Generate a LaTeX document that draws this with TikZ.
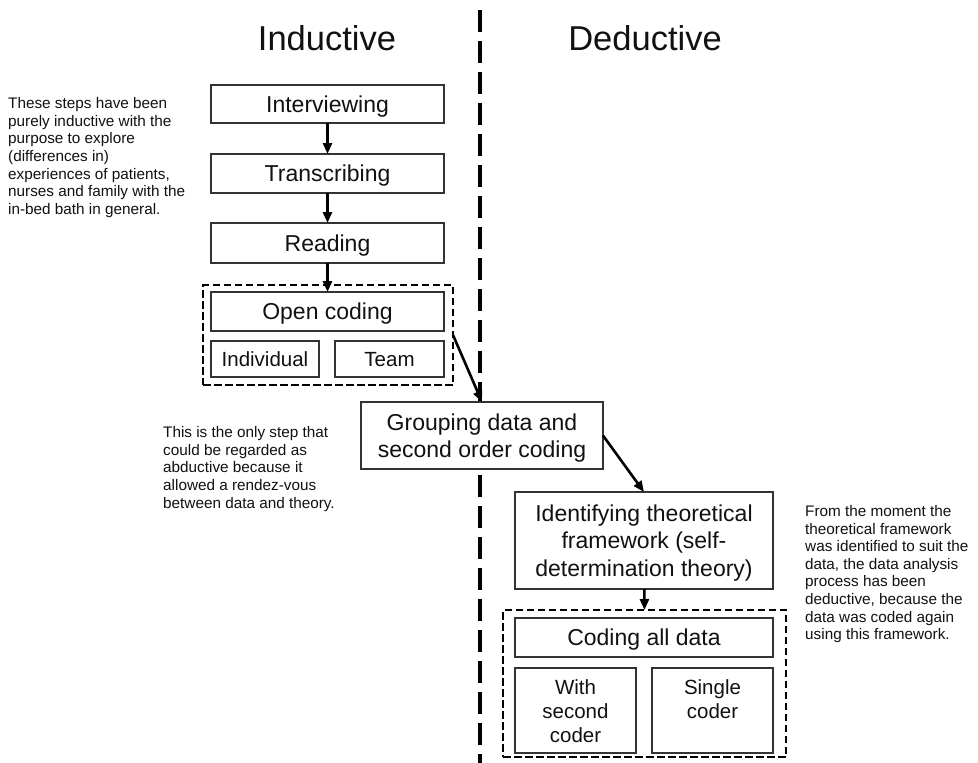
\documentclass[tikz,border=0pt]{standalone}
\usepackage{fontspec}
\setmainfont{Liberation Sans}
\usetikzlibrary{arrows.meta}
\definecolor{boxgray}{HTML}{333333}
\definecolor{inkc}{HTML}{111111}
\begin{document}
\begin{tikzpicture}[x=1pt,y=-1pt,
  box/.style={draw=boxgray, fill=white, line width=1.3pt, rectangle, inner sep=0pt, outer sep=0pt, align=center, text=inkc, text depth=0pt, font=\fontsize{23}{27.5}\selectfont},
  subbox/.style={box, font=\fontsize{20.5}{24}\selectfont},
  subtext/.style={inner sep=0pt, outer sep=0pt, align=center, text=inkc, anchor=north, font=\fontsize{20.5}{24}\selectfont},
  grp/.style={draw=black, line width=2.8pt, dash pattern=on 7.5pt off 3.5pt, rectangle, inner sep=0pt, outer sep=0pt},
  arr/.style={draw=black, line width=2.6pt, -{Triangle[length=11pt,width=9pt]}},
  note/.style={align=left, inner sep=0pt, anchor=north west, text=inkc, font=\fontsize{15.3}{17.6}\selectfont},
  ttl/.style={inner sep=0pt, text=inkc, font=\fontsize{34.5}{40}\selectfont}]

\useasboundingbox[fill=white] (0,0) rectangle (978,763);

% divider
\coordinate (vtop) at (480,10);
\coordinate (vbot) at (480,763);
\draw[line width=4.6pt, dash pattern=on 22pt off 9pt] (vtop) -- (vbot);

% titles
\node[ttl] (tind) at (327,38) {Inductive};
\node[ttl] (tded) at (645,38) {Deductive};

% inductive steps
\node[box, minimum width=233, minimum height=38] (interv) at (327.5,104) {Interviewing};
\node[box, minimum width=233, minimum height=39] (trans) at (327.5,173.5) {Transcribing};
\node[box, minimum width=233, minimum height=40] (read) at (327.5,243) {Reading};

\node[grp, minimum width=250, minimum height=100] (opengrp) at (328,335) {};
\node[box, minimum width=233, minimum height=39] (open) at (327.5,311.5) {Open coding};
\node[subbox, minimum width=108, minimum height=36] (indiv) at (265,359) {Individual};
\node[subbox, minimum width=109, minimum height=36] (team) at (389.5,359) {Team};

% abductive step
\node[box, minimum width=242, minimum height=67] (group) at (482,435.5) {Grouping data and\\second order coding};

% deductive steps
\node[box, minimum width=258, minimum height=97] (ident) at (644,540.5) {Identifying theoretical\\framework (self-\\determination theory)};

\node[grp, minimum width=283, minimum height=147] (dedgrp) at (644.5,683.5) {};
\node[box, minimum width=258, minimum height=39] (coding) at (644,637.5) {Coding all data};
\node[subbox, minimum width=121, minimum height=85] (withsec) at (575.5,710.5) {};
\node[subbox, minimum width=121, minimum height=85] (single) at (712.5,710.5) {};
\node[subtext] (withsectxt) at ([yshift=-12pt]withsec.north) {With\\second\\coder};
\node[subtext] (singletxt) at ([yshift=-12pt]single.north) {Single\\coder};

% connectors
\draw[arr] (interv) -- (trans);
\draw[arr] (trans) -- (read);
\draw[arr] (read) -- (open);
\draw[arr] (opengrp.east) -- (group.north);
\draw[arr] (group.east) -- (ident.north);
\draw[arr] (ident) -- (dedgrp.north);

% notes
\node[note] (noteind) at (8,97.5) {These steps have been\\purely inductive with the\\purpose to explore\\(differences in)\\experiences of patients,\\nurses and family with the\\in-bed bath in general.};
\node[note] (noteabd) at (163,426.5) {This is the only step that\\could be regarded as\\abductive because it\\allowed a rendez-vous\\between data and theory.};
\node[note] (noteded) at (805,505.2) {From the moment the\\theoretical framework\\was identified to suit the\\data, the data analysis\\process has been\\deductive, because the\\data was coded again\\using this framework.};
\end{tikzpicture}
\end{document}
